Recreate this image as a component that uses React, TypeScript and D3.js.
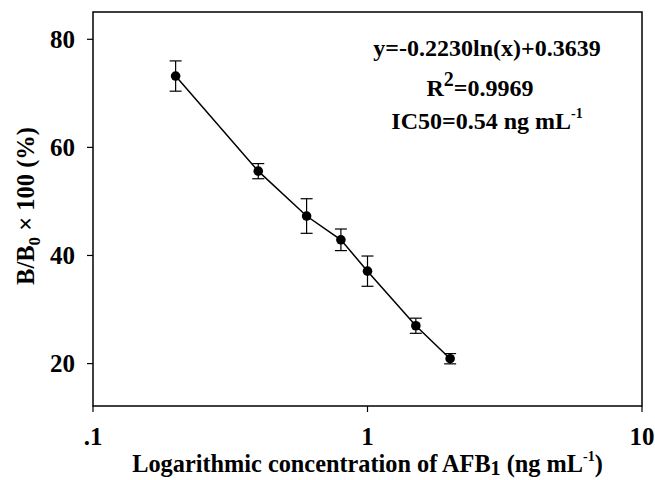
import React from "react";
import * as d3 from "d3";

const concentrations = [0.2, 0.4, 0.6, 0.8, 1.0, 1.5, 2.0];
const ratios = [73.2, 55.6, 47.3, 42.9, 37.1, 27.0, 20.9];
const errors = [2.8, 1.4, 3.2, 2.0, 2.8, 1.4, 0.95];
const xTicks = [0.1, 1, 10];
const xTickLabels = [".1", "1", "10"];
const yTicks = [20, 40, 60, 80];

const W = 655;
const H = 480;
const M = { left: 93, right: 13, top: 12, bottom: 74 };
const FONT = "'Liberation Serif', 'Times New Roman', serif";

export default function App() {
  const x = d3.scaleLog().domain([0.1, 10]).range([M.left, W - M.right]);
  const y = d3.scaleLinear().domain([12.15, 85.05]).range([H - M.bottom, M.top]);
  const pts: [number, number][] = concentrations.map((c, i) => [c, ratios[i]]);
  const line = d3
    .line<[number, number]>()
    .x((d) => x(d[0]))
    .y((d) => y(d[1]));
  const x0 = M.left;
  const x1 = W - M.right;
  const yb = H - M.bottom;
  const yt = M.top;
  return (
    <svg width={W} height={H} style={{ position: "absolute", left: 0, top: 0 }} fontFamily={FONT} fontWeight="bold">
      <rect x={0} y={0} width={W} height={H} fill="#fff" />
      <rect x={x0} y={yt} width={x1 - x0} height={yb - yt} fill="none" stroke="#000" strokeWidth={1.5} />
      {yTicks.map((t) => (
        <g key={t}>
          <line x1={x0 - 6} x2={x0} y1={y(t)} y2={y(t)} stroke="#000" strokeWidth={1.2} />
          <text x={x0 - 18} y={y(t)} dy="0.35em" textAnchor="end" fontSize={25}>
            {t}
          </text>
        </g>
      ))}
      {xTicks.map((t, i) => (
        <g key={t}>
          <line x1={x(t)} x2={x(t)} y1={yb} y2={yb + 6} stroke="#000" strokeWidth={1.2} />
          <text x={x(t)} y={yb + 39} textAnchor="middle" fontSize={25}>
            {xTickLabels[i]}
          </text>
        </g>
      ))}
      <path d={line(pts) || ""} fill="none" stroke="#000" strokeWidth={1.5} />
      {pts.map((d, i) => {
        const cx = x(d[0]);
        const top = y(d[1] + errors[i]);
        const bot = y(d[1] - errors[i]);
        return (
          <g key={i}>
            <line x1={cx} x2={cx} y1={top} y2={bot} stroke="#000" strokeWidth={1.2} />
            <line x1={cx - 6} x2={cx + 6} y1={top} y2={top} stroke="#000" strokeWidth={1.2} />
            <line x1={cx - 6} x2={cx + 6} y1={bot} y2={bot} stroke="#000" strokeWidth={1.2} />
            <circle cx={cx} cy={y(d[1])} r={4.8} fill="#000" />
          </g>
        );
      })}
      <text x={487} y={56} textAnchor="middle" fontSize={24}>
        y=-0.2230ln(x)+0.3639
      </text>
      <text x={480} y={96} textAnchor="middle" fontSize={24}>
        R<tspan fontSize={20} dy={-10}>2</tspan>
        <tspan dy={10}>=0.9969</tspan>
      </text>
      <text x={487} y={129} textAnchor="middle" fontSize={24}>
        IC50=0.54 ng mL<tspan fontSize={14} dy={-11}>-1</tspan>
      </text>
      <text x={x(1)} y={472} textAnchor="middle" fontSize={24.3}>
        Logarithmic concentration of AFB<tspan fontSize={20} dy={3}>1</tspan>
        <tspan dy={-3}> (ng mL</tspan>
        <tspan fontSize={14} dy={-11}>-1</tspan>
        <tspan dy={11}>)</tspan>
      </text>
      <text transform={`translate(34, 206) rotate(-90)`} textAnchor="middle" fontSize={24.5}>
        B/B<tspan fontSize={17} dy={6}>0</tspan>
        <tspan dy={-6}> × 100 (%)</tspan>
      </text>
    </svg>
  );
}
